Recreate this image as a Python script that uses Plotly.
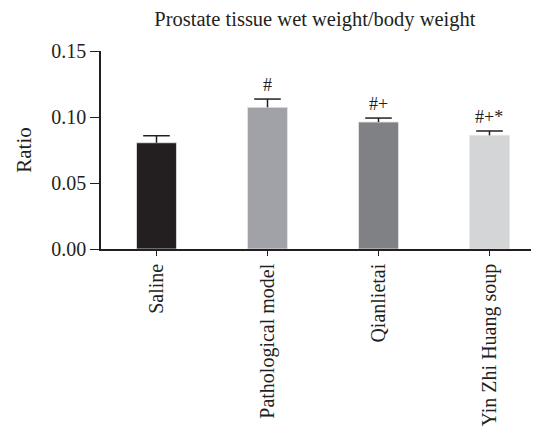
import plotly.graph_objects as go

categories = ["Saline", "Pathological model", "Qianlietai", "Yin Zhi Huang soup"]
ratio_values = [0.0805, 0.1073, 0.0962, 0.0861]
ratio_errors = [0.0053, 0.0063, 0.0030, 0.0033]
sig_labels = ["", "#", "#+", "#+*"]
bar_colors = ["#231f20", "#a0a2a8", "#808184", "#d4d5d7"]
y_ticks = [0.00, 0.05, 0.10, 0.15]
y_ticklabels = ["0.00", "0.05", "0.10", "0.15"]

FONT = "Liberation Serif, Times New Roman, serif"
INK = "#231f20"

fig = go.Figure()
fig.add_trace(go.Bar(
    x=categories,
    y=ratio_values,
    width=0.36,
    marker=dict(color=bar_colors, line=dict(color="#e6e6e6", width=0.8)),
    showlegend=False,
))

# one-sided (upward) error bars: stem + top cap, T shape
stem_x, stem_y = [], []
tops = []
for c, v, e in zip(categories, ratio_values, ratio_errors):
    stem_x += [c, c, None]
    stem_y += [v, v + e, None]
    tops.append(v + e)
fig.add_trace(go.Scatter(x=stem_x, y=stem_y, mode="lines",
                         line=dict(color=INK, width=1.5),
                         hoverinfo="skip", showlegend=False))
fig.add_trace(go.Scatter(x=categories, y=tops, mode="markers",
                         marker=dict(symbol="line-ew", size=19,
                                     line=dict(color=INK, width=1.5)),
                         hoverinfo="skip", showlegend=False))

for c, top, t in zip(categories, tops, sig_labels):
    if t:
        fig.add_annotation(x=c, y=top, text=t, showarrow=False,
                           xref="x", yref="y", yanchor="bottom", yshift=2,
                           font=dict(family=FONT, size=18, color=INK))

# page has an 8px body margin: figure is sized so the plot lands where the reference has it
fig.update_layout(
    width=531, height=424,
    margin=dict(l=93, r=0, t=43, b=183, autoexpand=False),
    paper_bgcolor="white", plot_bgcolor="white",
    font=dict(family=FONT, color=INK),
    title=dict(text="Prostate tissue wet weight/body weight",
               x=0.578, xanchor="center", xref="container",
               y=0.974, yanchor="middle", yref="container",
               font=dict(family=FONT, size=20.5, color=INK)),
)
fig.update_xaxes(
    type="category", range=[-0.5, 3.446],
    showline=True, linecolor=INK, linewidth=1.5,
    ticks="outside", ticklen=5, tickwidth=1.2, tickcolor=INK,
    tickangle=-90, tickfont=dict(family=FONT, size=20, color=INK),
    showgrid=False, zeroline=False,
)
fig.update_yaxes(
    range=[0, 0.15], tickvals=y_ticks, ticktext=y_ticklabels,
    showline=True, linecolor=INK, linewidth=1.5,
    ticks="outside", ticklen=9, tickwidth=1.2, tickcolor=INK,
    tickfont=dict(family=FONT, size=20, color=INK),
    title=dict(text="Ratio", font=dict(family=FONT, size=21, color=INK), standoff=14),
    showgrid=False, zeroline=False,
)

fig.write_html("out.html")
